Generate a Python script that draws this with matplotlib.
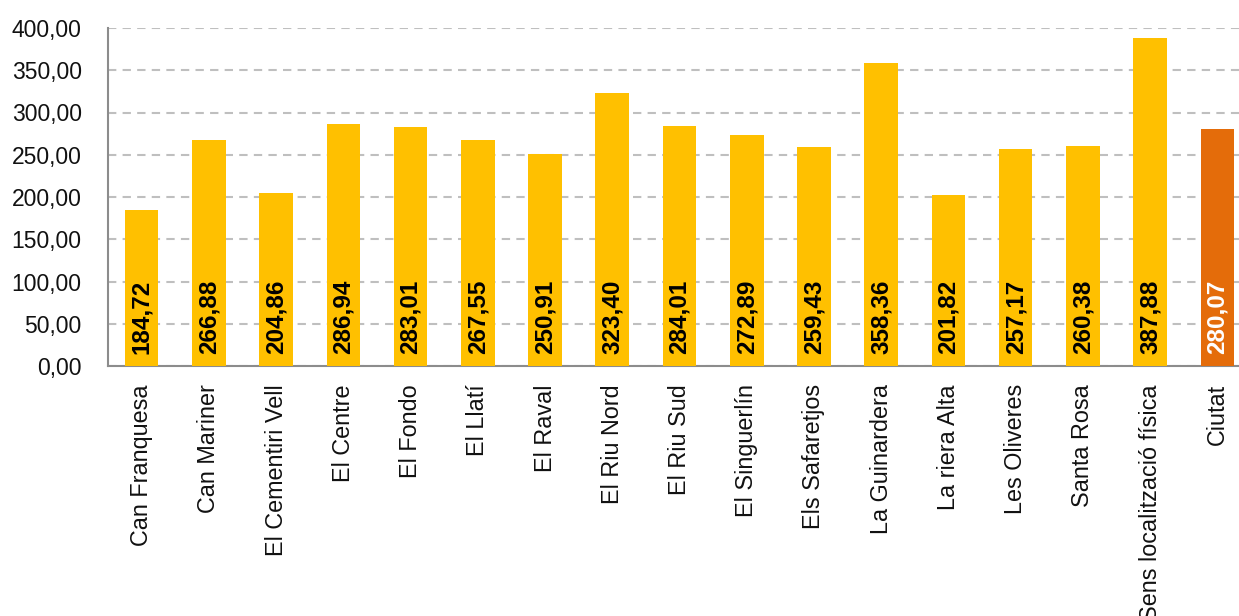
import matplotlib
matplotlib.use("Agg")
import matplotlib.pyplot as plt
from matplotlib.ticker import FuncFormatter

categories = ["Can Franquesa", "Can Mariner", "El Cementiri Vell", "El Centre", "El Fondo",
              "El Llatí", "El Raval", "El Riu Nord", "El Riu Sud", "El Singuerlín",
              "Els Safaretjos", "La Guinardera", "La riera Alta", "Les Oliveres",
              "Santa Rosa", "Sens localització física", "Ciutat"]
values = [184.72, 266.88, 204.86, 286.94, 283.01, 267.55, 250.91, 323.40, 284.01,
          272.89, 259.43, 358.36, 201.82, 257.17, 260.38, 387.88, 280.07]
yticks = [0, 50, 100, 150, 200, 250, 300, 350, 400]

plt.rcParams['font.family'] = ['Liberation Sans', 'DejaVu Sans']

W, H = 1239, 616
fig = plt.figure(figsize=(W / 100, H / 100), dpi=100)
ax = fig.add_axes([108 / W, 1 - 366 / H, 1143 / W, 338 / H])

colors = ["#FFC000"] * (len(categories) - 1) + ["#E46C0A"]
label_colors = ["black"] * (len(categories) - 1) + ["white"]
x = list(range(len(categories)))
bars = ax.bar(x, values, width=0.5, color=colors, zorder=3)

for xi, v, lc in zip(x, values, label_colors):
    ax.text(xi, 12 * 400 / 338, f"{v:.2f}".replace(".", ","), rotation=90,
            ha="center", va="bottom", fontsize=17.5, fontweight="bold", color=lc, zorder=4)

ax.set_xlim(-0.5, len(categories) - 0.5)
ax.set_ylim(0, 400)
ax.set_yticks(yticks)
ax.yaxis.set_major_formatter(FuncFormatter(lambda v, p: f"{v:.2f}".replace(".", ",")))
ax.set_xticks(x)
ax.set_xticklabels(categories, rotation=90, ha="center", va="top")
ax.tick_params(axis="y", length=0, pad=19, labelsize=16.5, colors="#111111")
ax.tick_params(axis="x", length=0, pad=13, labelsize=16.8, colors="#111111")
ax.grid(axis="y", color="#BFBFBF", linestyle=(0, (4, 3)), linewidth=1.5, zorder=0)
for s in ["top", "right"]:
    ax.spines[s].set_visible(False)
for s in ["left", "bottom"]:
    ax.spines[s].set_color("#8C8C8C")
    ax.spines[s].set_linewidth(1.5)

fig.savefig("out.png", dpi=100)
